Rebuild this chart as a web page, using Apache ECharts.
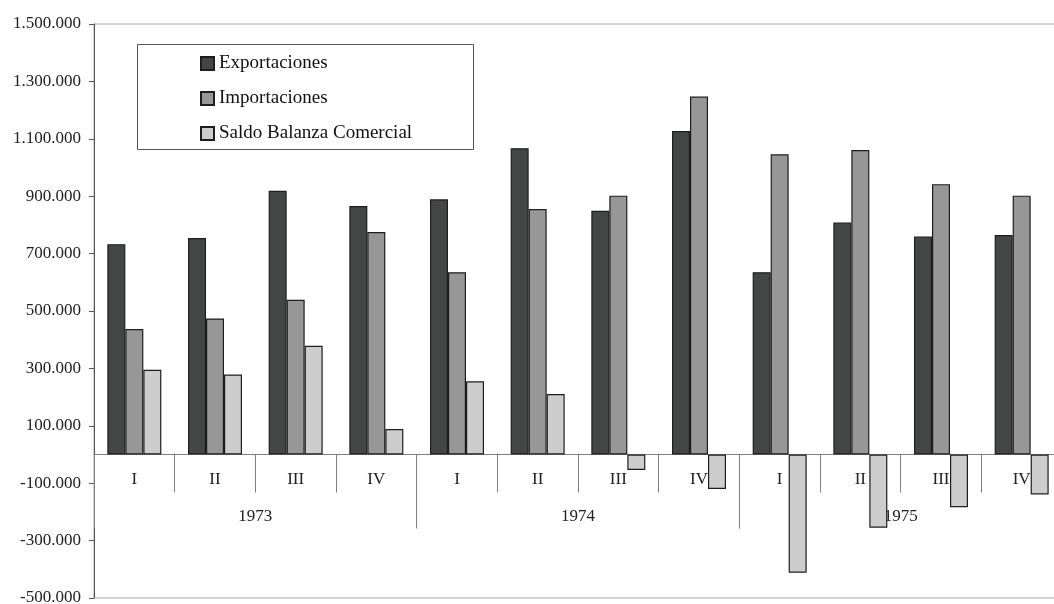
<!DOCTYPE html>
<html>
<head>
<meta charset="utf-8">
<script src="https://cdn.jsdelivr.net/npm/echarts@6/dist/echarts.min.js"></script>
<style>
  html, body { margin: 0; padding: 0; background: #fff; }
  #chart { width: 1054px; height: 604px; }
</style>
</head>
<body>
<div id="chart"></div>
<script>
// Quarterly trade figures, 1973-1975
const quarters = ['I', 'II', 'III', 'IV', 'I', 'II', 'III', 'IV', 'I', 'II', 'III', 'IV'];
const years = ['1973', '1974', '1975'];
const exportaciones = [733000, 754000, 919000, 866000, 889000, 1067000, 849000, 1127000, 635000, 808000, 760000, 765000];
const importaciones = [437000, 474000, 539000, 775000, 635000, 855000, 902000, 1247000, 1046000, 1061000, 942000, 902000];
const saldo = [295000, 279000, 379000, 89000, 255000, 211000, -54000, -120000, -412000, -255000, -184000, -139000];
const yMin = -500000, yMax = 1500000, yStep = 200000;

const FONT = 'Liberation Serif';

// 1500000 -> "1.500.000"
function fmtThousands(v) {
  const s = Math.abs(v).toString().replace(/\B(?=(\d{3})+(?!\d))/g, '.');
  return (v < 0 ? '-' : '') + s;
}

const barBorder = { borderColor: '#1e1e1e', borderWidth: 1.2 };
// Both grids share one plot rectangle: one carries the quarters, the other the years.
const plotRect = { left: 94, top: 24, width: 968, height: 574, outerBoundsMode: 'none', containLabel: false };
// The category axes sit on the zero line: shift them up from the plot bottom.
const zeroOffset = -(574 * (0 - yMin) / (yMax - yMin));

const chart = echarts.init(document.getElementById('chart'), null, { renderer: 'canvas' });
chart.setOption({
  animation: false,
  backgroundColor: '#ffffff',
  grid: [
    Object.assign({ show: true, borderColor: '#a8a8a8', borderWidth: 1, backgroundColor: 'transparent' }, plotRect),
    Object.assign({ show: false }, plotRect)
  ],
  graphic: [{
    type: 'rect',
    shape: { x: 137.5, y: 44.5, width: 336, height: 105 },
    style: { fill: 'rgba(0,0,0,0)', stroke: '#555555', lineWidth: 1 },
    z: 5
  }],
  legend: {
    orient: 'vertical',
    left: 200, top: 54,
    padding: 0,
    itemWidth: 13, itemHeight: 13, itemGap: 16,
    icon: 'rect',
    textStyle: { fontFamily: FONT, fontSize: 19, color: '#111', lineHeight: 19 },
    data: ['Exportaciones', 'Importaciones', 'Saldo Balanza Comercial']
  },
  xAxis: [{
    type: 'category',
    gridIndex: 0,
    data: quarters,
    position: 'bottom',
    offset: zeroOffset,
    axisLine: { show: true, onZero: false, lineStyle: { color: '#808080', width: 1 } },
    axisTick: { show: true, length: 38, lineStyle: { color: '#808080' } },
    axisLabel: { show: true, margin: 17, fontFamily: FONT, fontSize: 17, color: '#222' },
    splitLine: { show: false }
  }, {
    type: 'category',
    gridIndex: 1,
    data: years,
    position: 'bottom',
    offset: zeroOffset,
    axisLine: { show: false, onZero: false },
    axisTick: { show: true, length: 74, lineStyle: { color: '#808080' } },
    axisLabel: { show: true, margin: 54, fontFamily: FONT, fontSize: 17, color: '#222' },
    splitLine: { show: false }
  }],
  yAxis: [{
    type: 'value',
    gridIndex: 0,
    min: yMin, max: yMax, interval: yStep,
    axisLine: { show: true, lineStyle: { color: '#555', width: 1 } },
    axisTick: { show: true, length: 5, lineStyle: { color: '#555' } },
    axisLabel: { margin: 13, fontFamily: FONT, fontSize: 17, color: '#222', formatter: fmtThousands },
    splitLine: { show: false }
  }, {
    type: 'value',
    gridIndex: 1,
    min: yMin, max: yMax, interval: yStep,
    show: false
  }],
  series: [{
    name: 'Exportaciones', type: 'bar', xAxisIndex: 0, yAxisIndex: 0,
    data: exportaciones, barWidth: 18, barGap: '0%',
    itemStyle: Object.assign({ color: '#444645' }, barBorder)
  }, {
    name: 'Importaciones', type: 'bar', xAxisIndex: 0, yAxisIndex: 0,
    data: importaciones, barWidth: 18, barGap: '0%',
    itemStyle: Object.assign({ color: '#979797' }, barBorder)
  }, {
    name: 'Saldo Balanza Comercial', type: 'bar', xAxisIndex: 0, yAxisIndex: 0,
    data: saldo, barWidth: 18, barGap: '0%',
    itemStyle: Object.assign({ color: '#cdcdcd' }, barBorder)
  }]
});
</script>
</body>
</html>
